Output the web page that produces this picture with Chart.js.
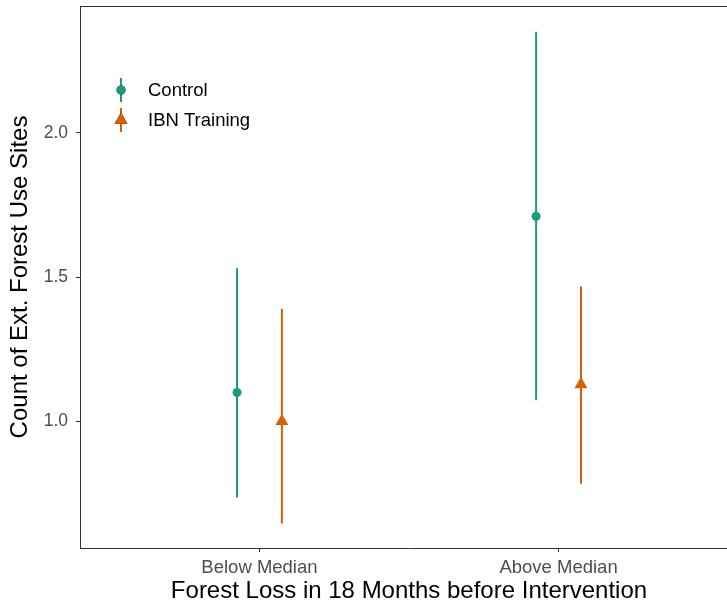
<!DOCTYPE html>
<html>
<head>
<meta charset="utf-8">
<script src="https://cdn.jsdelivr.net/npm/chart.js@4/dist/chart.umd.min.js"></script>
<style>
  html, body { margin: 0; padding: 0; background: #fff; overflow: hidden; }
  /* 元の図は右端が少し切れているので、少し広く描いて切り取る */
  #wrap { width: 738px; height: 603px; }
</style>
</head>
<body>
<div id="wrap"><canvas id="c"></canvas></div>
<script>
// データ
const groups = ['Below Median', 'Above Median'];
const seriesNames = ['Control', 'IBN Training'];
const controlMean = [1.10, 1.711];
const controlLow = [0.736, 1.073];
const controlHigh = [1.531, 2.351];
const ibnMean = [1.00, 1.128];
const ibnLow = [0.646, 0.784];
const ibnHigh = [1.390, 1.468];
const yTicks = [1.0, 1.5, 2.0];

const colors = ['#1B9E77', '#D95F02'];
const dodge = 0.075;
const fontFamily = '"Liberation Sans", Arial, Helvetica, sans-serif';

function makeData(means, lows, highs, shift) {
    return means.map((m, i) => ({ x: i + 1 + shift, y: m, lo: lows[i], hi: highs[i] }));
}

// 軸の自動余白を無くす
function noPadding(axis) {
    axis.paddingTop = 0;
    axis.paddingBottom = 0;
    axis.paddingLeft = 0;
    axis.paddingRight = 0;
}

// エラーバー描画
const errorBars = {
    id: 'errorBars',
    beforeDatasetsDraw(chart) {
        const { ctx, scales: { x, y } } = chart;
        ctx.save();
        chart.data.datasets.forEach((ds) => {
            ctx.strokeStyle = ds.borderColor;
            ctx.lineWidth = 2;
            ds.data.forEach((p) => {
                const px = x.getPixelForValue(p.x);
                ctx.beginPath();
                ctx.moveTo(px, y.getPixelForValue(p.lo));
                ctx.lineTo(px, y.getPixelForValue(p.hi));
                ctx.stroke();
            });
        });
        ctx.restore();
    },
    afterDraw(chart) {
        const { ctx, chartArea } = chart;
        ctx.save();
        // 上枠線
        ctx.strokeStyle = '#333333';
        ctx.lineWidth = 1;
        ctx.beginPath();
        ctx.moveTo(chartArea.left, chartArea.top + 0.5);
        ctx.lineTo(chartArea.right, chartArea.top + 0.5);
        ctx.stroke();

        // 凡例
        const lx = 121, ly = 90, gap = 30;
        chart.data.datasets.forEach((ds, i) => {
            const cy = ly + i * gap;
            ctx.strokeStyle = ds.borderColor;
            ctx.lineWidth = 2;
            ctx.beginPath();
            ctx.moveTo(lx, cy - 12);
            ctx.lineTo(lx, cy + 12);
            ctx.stroke();
            Chart.helpers.drawPoint(ctx, {
                pointStyle: ds.pointStyle,
                radius: ds.pointRadius,
                borderWidth: 0
            }, lx, cy);
            ctx.fillStyle = ds.backgroundColor;
            ctx.fill();
            ctx.fillStyle = '#000000';
            ctx.font = '18.5px ' + fontFamily;
            ctx.textBaseline = 'middle';
            ctx.fillText(ds.label, 148, cy + 1);
        });
        ctx.restore();
    }
};

const chart = new Chart(document.getElementById('c'), {
    type: 'scatter',
    data: {
        datasets: [
            {
                label: seriesNames[0],
                data: makeData(controlMean, controlLow, controlHigh, -dodge),
                backgroundColor: colors[0],
                borderColor: colors[0],
                pointStyle: 'circle',
                pointRadius: 4.5,
                pointBorderWidth: 0
            },
            {
                label: seriesNames[1],
                data: makeData(ibnMean, ibnLow, ibnHigh, dodge),
                backgroundColor: colors[1],
                borderColor: colors[1],
                pointStyle: 'triangle',
                pointRadius: 7.5,
                pointBorderWidth: 0
            }
        ]
    },
    options: {
        responsive: true,
        maintainAspectRatio: false,
        animation: false,
        layout: { autoPadding: false, padding: { top: 6, right: 0, left: 0, bottom: 0 } },
        plugins: {
            legend: { display: false },
            tooltip: { enabled: false }
        },
        scales: {
            x: {
                type: 'linear',
                min: 0.4,
                max: 2.6,
                afterBuildTicks: (axis) => { axis.ticks = groups.map((g, i) => ({ value: i + 1 })); },
                afterFit: (axis) => { axis.height = 55; noPadding(axis); },
                ticks: {
                    callback: (v) => groups[v - 1],
                    color: '#4D4D4D',
                    font: { family: fontFamily, size: 18.5 },
                    padding: 5,
                    maxRotation: 0
                },
                grid: { drawOnChartArea: false, drawTicks: true, tickLength: 4, color: '#333333' },
                border: { display: true, color: '#333333', width: 1 },
                title: {
                    display: true,
                    text: 'Forest Loss in 18 Months before Intervention',
                    color: '#000000',
                    font: { family: fontFamily, size: 24 },
                    padding: { top: 0, bottom: -3 }
                }
            },
            y: {
                min: 0.561,
                max: 2.44,
                afterBuildTicks: (axis) => { axis.ticks = yTicks.map((v) => ({ value: v })); },
                afterFit: (axis) => { axis.width = 80; noPadding(axis); },
                ticks: {
                    callback: (v) => v.toFixed(1),
                    color: '#4D4D4D',
                    font: { family: fontFamily, size: 17.5 },
                    padding: 8
                },
                grid: { drawOnChartArea: false, drawTicks: true, tickLength: 4, color: '#333333' },
                border: { display: true, color: '#333333', width: 1 },
                title: {
                    display: true,
                    text: 'Count of Ext. Forest Use Sites',
                    color: '#000000',
                    font: { family: fontFamily, size: 24 },
                    padding: { top: 6, bottom: 0 }
                }
            }
        }
    },
    plugins: [errorBars]
});
</script>
</body>
</html>
